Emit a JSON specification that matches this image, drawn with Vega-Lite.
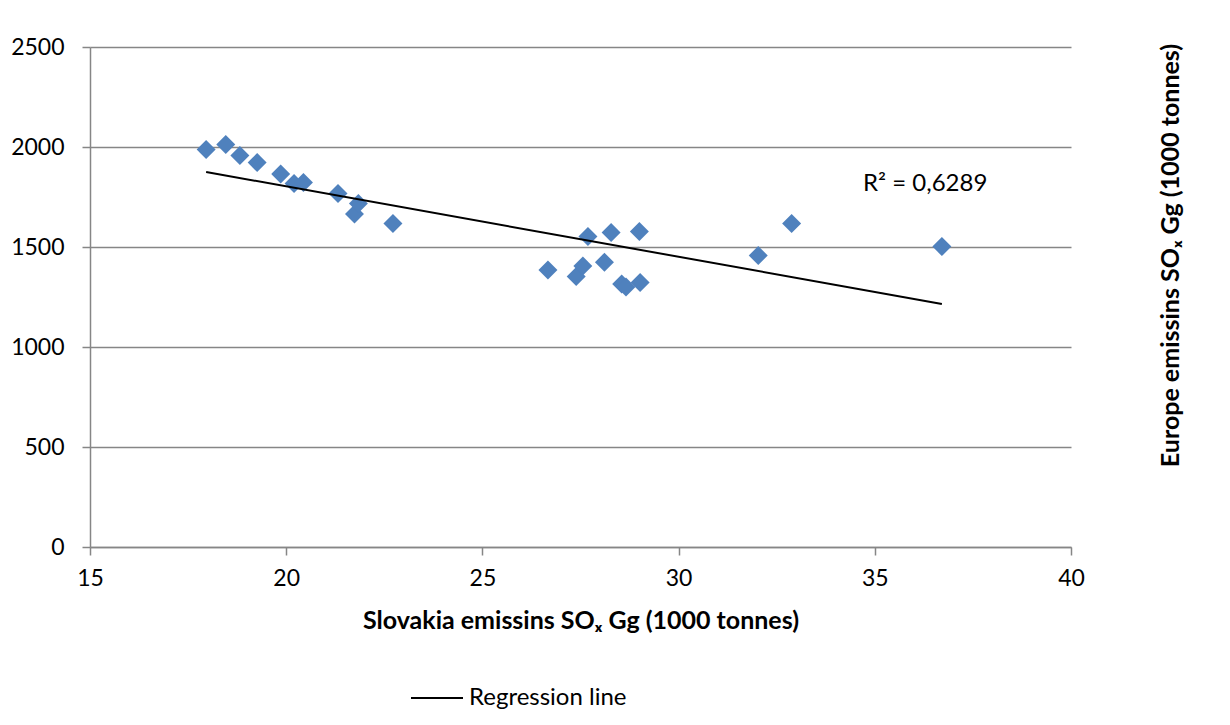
{
  "$schema": "https://vega.github.io/schema/vega-lite/v6.json",
  "width": 981,
  "height": 500,
  "autosize": {"type": "none"},
  "padding": {"left": 90, "top": 47, "right": 159, "bottom": 178},
  "background": "white",
  "config": {"view": {"stroke": null}, "font": "Lato"},
  "datasets": {
    "points": [
      {"x": 17.96, "y": 1988},
      {"x": 18.46, "y": 2012},
      {"x": 18.82, "y": 1958},
      {"x": 19.26, "y": 1922},
      {"x": 19.86, "y": 1865},
      {"x": 20.2, "y": 1818},
      {"x": 20.44, "y": 1823},
      {"x": 21.32, "y": 1768},
      {"x": 21.74, "y": 1665},
      {"x": 21.84, "y": 1718},
      {"x": 22.72, "y": 1618},
      {"x": 26.67, "y": 1385},
      {"x": 27.39, "y": 1352},
      {"x": 27.56, "y": 1405},
      {"x": 27.69, "y": 1552},
      {"x": 28.11, "y": 1424},
      {"x": 28.28, "y": 1572},
      {"x": 28.55, "y": 1315},
      {"x": 28.66, "y": 1300},
      {"x": 29.02, "y": 1322},
      {"x": 29.0, "y": 1577},
      {"x": 32.03, "y": 1457},
      {"x": 32.88, "y": 1618},
      {"x": 36.71, "y": 1502}
    ],
    "line": [
      {"x": 17.96, "y": 1875, "series": "Regression line"},
      {"x": 36.71, "y": 1215, "series": "Regression line"}
    ],
    "label": [
      {"x": 34.7, "y": 1815, "text": "R² = 0,6289"}
    ]
  },
  "encoding": {
    "x": {
      "field": "x", "type": "quantitative",
      "scale": {"domain": [15, 40], "nice": false, "zero": false},
      "axis": {
        "values": [15, 20, 25, 30, 35, 40],
        "format": "d",
        "grid": false, "labelFlush": false, "labelOverlap": false,
        "domainColor": "#868686", "domainWidth": 1.5,
        "tickColor": "#868686", "tickWidth": 1.5, "tickSize": 8,
        "labelFontSize": 23, "labelColor": "black", "labelPadding": 12,
        "title": "Slovakia emissins SOₓ Gg (1000 tonnes)",
        "titleFontSize": 25, "titleFontWeight": "bold", "titleColor": "black",
        "titlePadding": 18
      }
    },
    "y": {
      "field": "y", "type": "quantitative",
      "scale": {"domain": [0, 2500], "nice": false},
      "axis": {
        "values": [0, 500, 1000, 1500, 2000, 2500],
        "format": "d",
        "grid": true, "gridColor": "#868686", "gridWidth": 1.5,
        "labelFlush": false, "labelOverlap": false,
        "domainColor": "#868686", "domainWidth": 1.5,
        "tickColor": "#868686", "tickWidth": 1.5, "tickSize": 8,
        "labelFontSize": 23, "labelColor": "black", "labelPadding": 18,
        "title": "Europe emissins SOₓ  Gg (1000 tonnes)",
        "titleFontSize": 25, "titleFontWeight": "bold", "titleColor": "black",
        "titleAngle": -90, "titleX": 1080, "titleY": 208,
        "titleAlign": "center", "titleBaseline": "middle"
      }
    }
  },
  "layer": [
    {
      "data": {"name": "points"},
      "mark": {"type": "point", "shape": "diamond", "filled": true, "size": 360, "color": "#4F81BD", "opacity": 1}
    },
    {
      "data": {"name": "line"},
      "mark": {"type": "line", "strokeWidth": 2},
      "encoding": {
        "color": {
          "field": "series", "type": "nominal",
          "scale": {"range": ["black"]},
          "legend": {
            "title": null, "orient": "none", "legendX": 320, "legendY": 624,
            "symbolType": "stroke", "symbolSize": 2704, "symbolStrokeWidth": 2,
            "labelFontSize": 24, "labelColor": "black", "labelOffset": 5
          }
        }
      }
    },
    {
      "data": {"name": "label"},
      "mark": {"type": "text", "align": "left", "baseline": "middle", "fontSize": 24, "color": "black"},
      "encoding": {
        "text": {"field": "text"}
      }
    }
  ]
}
